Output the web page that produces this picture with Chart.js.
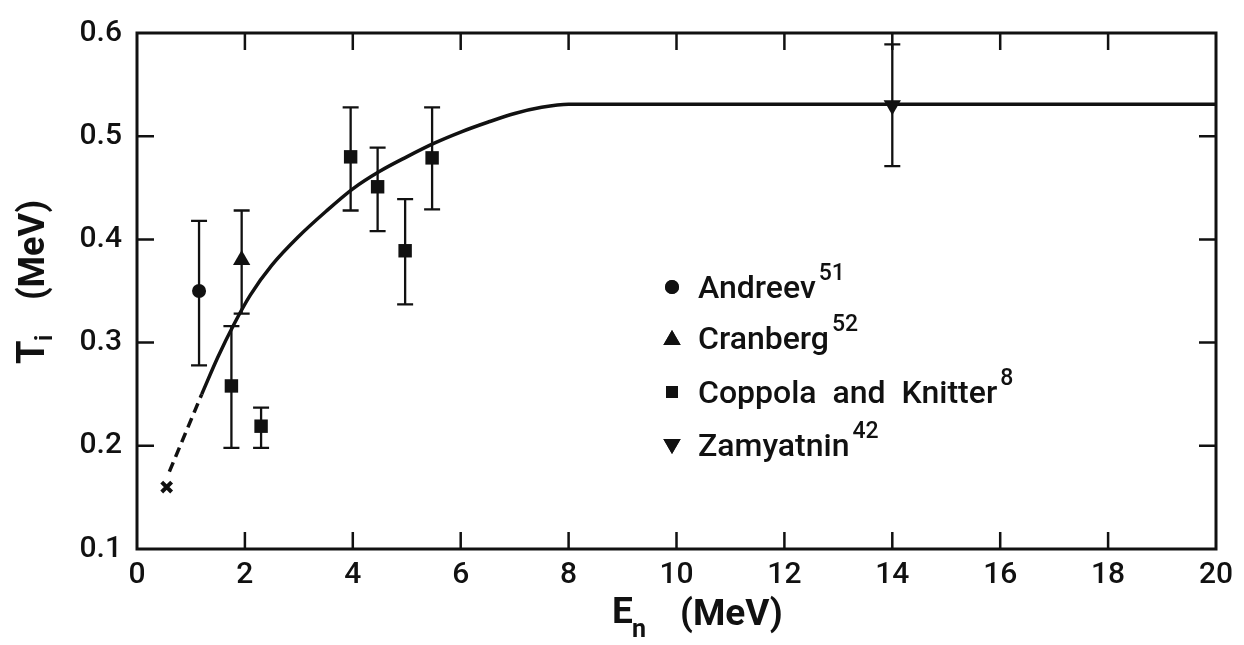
<!DOCTYPE html>
<html>
<head>
<meta charset="utf-8">
<title>Nuclear temperature vs neutron energy</title>
<script src="https://cdn.jsdelivr.net/npm/chart.js@4.4.1/dist/chart.umd.min.js"></script>
<style>
  body { margin: 0; background: #fff; }
  #wrap { width: 1244px; height: 645px; }
</style>
</head>
<body>
<div id="wrap"><canvas id="tempChart" width="1244" height="645"></canvas></div>
<script>
// Systematics curve (solid part), E_n in MeV, T_i in MeV
const curveE = [1.2, 1.5, 1.8, 2.1, 2.5, 3.0, 3.5, 4.0, 4.5, 5.0, 5.5, 6.0, 6.5, 7.0, 7.5, 8.0, 20];
const curveT = [0.25, 0.286, 0.318, 0.346, 0.375, 0.403, 0.427, 0.449, 0.466, 0.48, 0.493, 0.504, 0.5135, 0.522, 0.528, 0.531, 0.531];

// dashed extrapolation down to the low-energy point
const dashE = [0.6, 1.2];
const dashT = [0.175, 0.25];
const lowE = [0.55];
const lowT = [0.16];

// measurements with error limits
const andreevE = [1.15];
const andreevT = [0.35];
const andreevLo = [0.278];
const andreevHi = [0.418];

const cranbergE = [1.94];
const cranbergT = [0.38];
const cranbergLo = [0.328];
const cranbergHi = [0.428];

const coppolaE = [1.75, 2.3, 3.96, 4.46, 4.97, 5.47];
const coppolaT = [0.258, 0.219, 0.48, 0.451, 0.389, 0.479];
const coppolaLo = [0.198, 0.198, 0.428, 0.408, 0.337, 0.429];
const coppolaHi = [0.316, 0.237, 0.528, 0.489, 0.439, 0.528];

const zamyatninE = [14];
const zamyatninT = [0.53];
const zamyatninLo = [0.471];
const zamyatninHi = [0.589];

const xTicks = [0, 2, 4, 6, 8, 10, 12, 14, 16, 18, 20];
const yTicks = [0.1, 0.2, 0.3, 0.4, 0.5, 0.6];

const legendItems = [
  { style: 'circle', rot: 0, text: 'Andreev', sup: '51' },
  { style: 'triangle', rot: 0, text: 'Cranberg', sup: '52' },
  { style: 'rect', rot: 0, text: 'Coppola  and  Knitter', sup: '8' },
  { style: 'triangle', rot: 180, text: 'Zamyatnin', sup: '42' }
];

const ink = '#111';
const pts = (xs, ys) => xs.map((v, i) => ({ x: v, y: ys[i] }));

function marker(ctx, style, rot, r, x, y) {
  if (Chart.helpers && Chart.helpers.drawPoint) {
    Chart.helpers.drawPoint(ctx, { pointStyle: style, rotation: rot, radius: r, borderWidth: 0 }, x, y);
    ctx.fill();
  }
}

// vertical error bars with caps
const errorBars = {
  id: 'errorBars',
  beforeDatasetsDraw(chart) {
    const { ctx, scales: { x, y } } = chart;
    ctx.save();
    ctx.strokeStyle = ink;
    ctx.lineWidth = 2.3;
    chart.data.datasets.forEach(ds => {
      if (!ds.lo) return;
      ds.data.forEach((p, i) => {
        const px = x.getPixelForValue(p.x);
        const yl = y.getPixelForValue(ds.lo[i]);
        const yh = y.getPixelForValue(ds.hi[i]);
        ctx.beginPath();
        ctx.moveTo(px, yl); ctx.lineTo(px, yh);
        ctx.moveTo(px - 8, yl); ctx.lineTo(px + 8, yl);
        ctx.moveTo(px - 8, yh); ctx.lineTo(px + 8, yh);
        ctx.stroke();
      });
    });
    ctx.restore();
  }
};

// box frame with inward ticks, axis titles, legend
const decorations = {
  id: 'decorations',
  afterDraw(chart) {
    const { ctx, chartArea: a, scales: { x, y } } = chart;
    ctx.save();
    ctx.strokeStyle = ink;
    ctx.fillStyle = ink;
    ctx.lineWidth = 3;
    ctx.strokeRect(a.left, a.top, a.right - a.left, a.bottom - a.top);

    ctx.lineWidth = 2.5;
    ctx.beginPath();
    xTicks.slice(1, -1).forEach(v => {
      const px = x.getPixelForValue(v);
      ctx.moveTo(px, a.bottom); ctx.lineTo(px, a.bottom - 17);
      ctx.moveTo(px, a.top); ctx.lineTo(px, a.top + 17);
    });
    yTicks.slice(1, -1).forEach(v => {
      const py = y.getPixelForValue(v);
      ctx.moveTo(a.left, py); ctx.lineTo(a.left + 17, py);
      ctx.moveTo(a.right, py); ctx.lineTo(a.right - 17, py);
    });
    ctx.stroke();

    // x title: E_n (MeV)
    ctx.textBaseline = 'alphabetic';
    ctx.textAlign = 'left';
    ctx.font = '700 37px Roboto';
    ctx.fillText('E', 612, 623);
    ctx.font = '700 25px Roboto';
    ctx.fillText('n', 632, 637);
    ctx.font = '700 37px Roboto';
    ctx.fillText('(MeV)', 680, 625);

    // y title: T_i (MeV), rotated
    ctx.save();
    ctx.translate(44, 0);
    ctx.rotate(-Math.PI / 2);
    ctx.font = '700 38px Roboto';
    ctx.fillText('T', -364, 0);
    ctx.font = '700 24px Roboto';
    ctx.fillText('i', -341, 8);
    ctx.font = '700 36px Roboto';
    ctx.fillText('(MeV)', -300, 0);
    ctx.restore();

    // legend
    const rows = [287, 338, 392, 445];
    legendItems.forEach((it, i) => {
      const cy = rows[i];
      const r = it.style === 'circle' ? 7 : (it.style === 'rect' ? 8.5 : 10);
      marker(ctx, it.style, it.rot, r, 672, cy + (it.style === 'triangle' ? (it.rot ? -1 : 2) : 0));
      ctx.font = '500 32px Roboto';
      const base = cy + 11;
      ctx.fillText(it.text, 698, base);
      const w = ctx.measureText(it.text).width;
      ctx.font = '500 23px Roboto';
      ctx.fillText(it.sup, 698 + w + 3, base - 18);
    });
    ctx.restore();
  }
};

const markerDs = (label, xs, ys, lo, hi, style, r, rot) => ({
  label,
  data: pts(xs, ys),
  lo, hi,
  pointStyle: style,
  pointRadius: r,
  pointRotation: rot || 0,
  pointBackgroundColor: ink,
  pointBorderWidth: 0,
  showLine: false
});

new Chart(document.getElementById('tempChart'), {
  type: 'scatter',
  data: {
    datasets: [
      {
        label: 'curve',
        data: pts(curveE, curveT),
        showLine: true,
        borderColor: ink,
        borderWidth: 3.5,
        pointRadius: 0,
        cubicInterpolationMode: 'monotone'
      },
      {
        label: 'extrapolation',
        data: pts(dashE, dashT),
        showLine: true,
        borderColor: ink,
        borderWidth: 3.5,
        borderDash: [10, 6],
        pointRadius: 0
      },
      {
        label: 'low point',
        data: pts(lowE, lowT),
        pointStyle: 'crossRot',
        pointRadius: 7,
        pointBorderColor: ink,
        pointBorderWidth: 4
      },
      markerDs('Andreev', andreevE, andreevT, andreevLo, andreevHi, 'circle', 7),
      markerDs('Cranberg', cranbergE, cranbergT, cranbergLo, cranbergHi, 'triangle', 10),
      markerDs('Coppola and Knitter', coppolaE, coppolaT, coppolaLo, coppolaHi, 'rect', 9.5),
      markerDs('Zamyatnin', zamyatninE, zamyatninT, zamyatninLo, zamyatninHi, 'triangle', 10, 180)
    ]
  },
  options: {
    responsive: false,
    animation: false,
    layout: { padding: { top: 19, right: 28, left: 0, bottom: 0 } },
    plugins: {
      legend: { display: false },
      tooltip: { enabled: false }
    },
    scales: {
      x: {
        type: 'linear',
        min: 0,
        max: 20,
        afterFit: s => { s.height = 96; },
        afterBuildTicks: s => { s.ticks = xTicks.map(v => ({ value: v })); },
        grid: { display: false, drawTicks: false },
        border: { display: false },
        ticks: {
          padding: 8,
          color: ink,
          font: { family: 'Roboto', size: 30, weight: '500' },
          callback: v => String(v)
        }
      },
      y: {
        type: 'linear',
        min: 0.1,
        max: 0.6,
        afterFit: s => { s.width = 137; },
        afterBuildTicks: s => { s.ticks = yTicks.map(v => ({ value: v })); },
        grid: { display: false, drawTicks: false },
        border: { display: false },
        ticks: {
          padding: 15,
          color: ink,
          font: { family: 'Roboto', size: 30, weight: '500' },
          callback: v => v.toFixed(1)
        }
      }
    }
  },
  plugins: [errorBars, decorations]
});
</script>
</body>
</html>
